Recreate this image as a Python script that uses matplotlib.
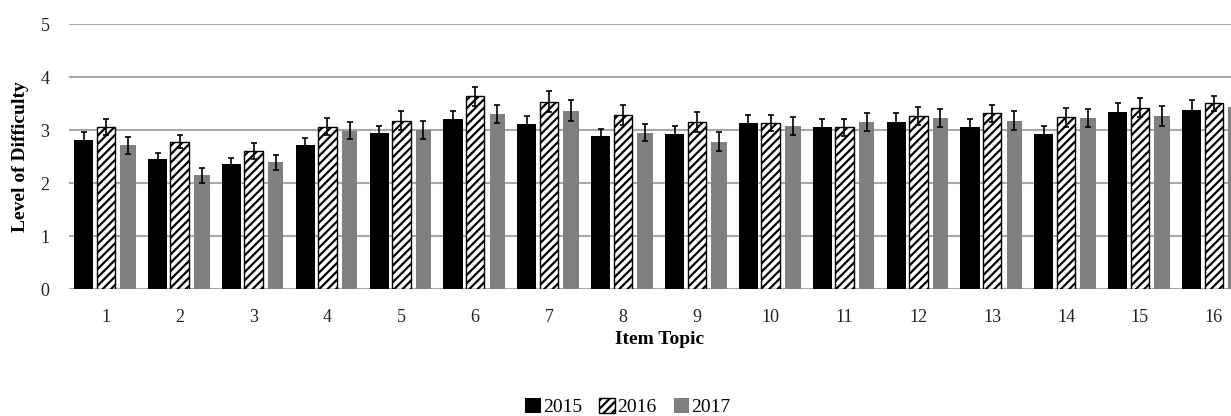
import numpy as np
import matplotlib
matplotlib.use("Agg")
import matplotlib.pyplot as plt

topics = [str(i) for i in range(1, 17)]
years = ["2015", "2016", "2017"]

mean_2015 = [2.82, 2.45, 2.36, 2.72, 2.94, 3.21, 3.11, 2.88, 2.93, 3.14, 3.05, 3.16, 3.05, 2.93, 3.35, 3.38]
mean_2016 = [3.06, 2.78, 2.60, 3.06, 3.18, 3.64, 3.54, 3.29, 3.16, 3.14, 3.05, 3.26, 3.32, 3.24, 3.42, 3.51]
mean_2017 = [2.71, 2.15, 2.39, 2.99, 3.00, 3.31, 3.37, 2.95, 2.78, 3.07, 3.16, 3.23, 3.18, 3.23, 3.27, 3.43]

err_2015 = [0.15, 0.11, 0.12, 0.13, 0.14, 0.16, 0.16, 0.15, 0.15, 0.15, 0.16, 0.16, 0.16, 0.15, 0.16, 0.19]
err_2016 = [0.15, 0.12, 0.15, 0.16, 0.18, 0.18, 0.19, 0.19, 0.19, 0.15, 0.16, 0.17, 0.16, 0.18, 0.18, 0.14]
err_2017 = [0.16, 0.14, 0.14, 0.16, 0.17, 0.17, 0.20, 0.16, 0.18, 0.17, 0.17, 0.17, 0.18, 0.17, 0.19, 0.15]

plt.rcParams['font.family'] = ['Liberation Serif', 'DejaVu Serif']
plt.rcParams['hatch.linewidth'] = 1.6

fig = plt.figure(figsize=(12.31, 4.16), dpi=100)
ax = fig.add_axes([0.056, 0.305, 0.96, 0.637])

x = np.arange(len(topics))
step = 0.30
ekw = dict(ecolor='black', elinewidth=1.2, capsize=2.5, capthick=1.2)

ax.bar(x - step, mean_2015, 0.26, color='black', yerr=err_2015,
       error_kw=ekw, label=years[0], zorder=3)
ax.bar(x, mean_2016, 0.25, color='white', edgecolor='black', hatch='////',
       linewidth=1.0, yerr=err_2016, error_kw=ekw, label=years[1], zorder=3)
ax.bar(x + step, mean_2017, 0.21, color='#808080', yerr=err_2017,
       error_kw=ekw, label=years[2], zorder=3)

ax.set_xlim(-0.5, len(topics) - 0.5)
ax.set_ylim(0, 5)
ax.set_yticks(range(6))
ax.set_xticks(x)
ax.set_xticklabels(topics)
ax.yaxis.grid(True, color='#a8a8a8', linewidth=1.5, zorder=0)
ax.set_axisbelow(True)
for s in ax.spines.values():
    s.set_visible(False)
ax.tick_params(axis='both', length=0, labelsize=13, colors='#222222')
ax.tick_params(axis='x', pad=14)
ax.tick_params(axis='y', pad=14)

ax.set_ylabel('Level of Difficulty', fontsize=14, fontweight='bold', labelpad=8)
ax.set_xlabel('Item Topic', fontsize=14, fontweight='bold', labelpad=4)

fig.legend(loc='center', bbox_to_anchor=(0.51, 0.022), ncol=3, frameon=False,
           fontsize=14, handlelength=0.8, handleheight=0.8, handletextpad=0.1,
           columnspacing=0.9)

fig.savefig('out.png', dpi=100)
